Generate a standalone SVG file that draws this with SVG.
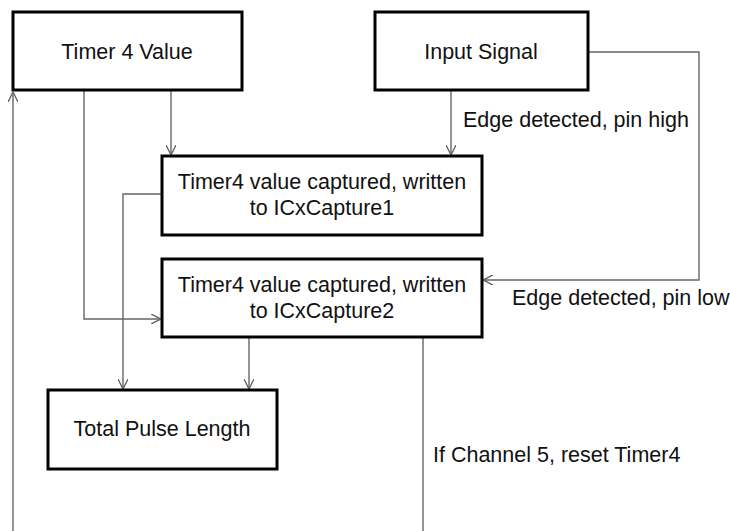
<svg xmlns="http://www.w3.org/2000/svg" width="730" height="531" viewBox="0 0 730 531">
<style>
.box{fill:#fff;stroke:#000;stroke-width:3}
.t{font-family:"Liberation Sans",Arial,sans-serif;font-size:21.5px;fill:#111}
.c{text-anchor:middle}
.ln{fill:none;stroke:#666;stroke-width:1.4}
</style>
<defs>
<marker id="ah" viewBox="0 0 10 10" refX="10" refY="5" markerWidth="10" markerHeight="10" markerUnits="userSpaceOnUse" orient="auto">
<path d="M0,0 L10,5 L0,10" fill="none" stroke="#666" stroke-width="1.4"/>
</marker>
</defs>
<g id="connectors">
<path class="ln" d="M13,531 L13,92" marker-end="url(#ah)"/>
<path class="ln" d="M171,90 L171,155" marker-end="url(#ah)"/>
<path class="ln" d="M451,90 L451,155" marker-end="url(#ah)"/>
<path class="ln" d="M588,52 L699,52 L699,280 L483,280" marker-end="url(#ah)"/>
<path class="ln" d="M84,90 L84,319 L161,319" marker-end="url(#ah)"/>
<path class="ln" d="M162,194 L123,194 L123,389" marker-end="url(#ah)"/>
<path class="ln" d="M249,337 L249,389" marker-end="url(#ah)"/>
<path class="ln" d="M423,337 L423,531"/>
</g>
<g id="timer4value">
<rect class="box" x="13" y="12" width="229" height="78"/>
<text class="t c" x="127" y="59">Timer 4 Value</text>
</g>
<g id="inputsignal">
<rect class="box" x="375" y="12" width="213" height="78"/>
<text class="t c" x="481" y="59">Input Signal</text>
</g>
<g id="capture1">
<rect class="box" x="162" y="156" width="320" height="79"/>
<text class="t c" x="322" y="189">Timer4 value captured, written</text>
<text class="t c" x="322" y="215">to ICxCapture1</text>
</g>
<g id="capture2">
<rect class="box" x="162" y="259" width="320" height="78"/>
<text class="t c" x="322" y="292">Timer4 value captured, written</text>
<text class="t c" x="322" y="318">to ICxCapture2</text>
</g>
<g id="totalpulse">
<rect class="box" x="48" y="390" width="229" height="79"/>
<text class="t c" x="162" y="436">Total Pulse Length</text>
</g>
<g id="labels">
<text class="t" x="463" y="127">Edge detected, pin high</text>
<text class="t" x="512" y="305">Edge detected, pin low</text>
<text class="t" x="433" y="462">If Channel 5, reset Timer4</text>
</g>
</svg>
